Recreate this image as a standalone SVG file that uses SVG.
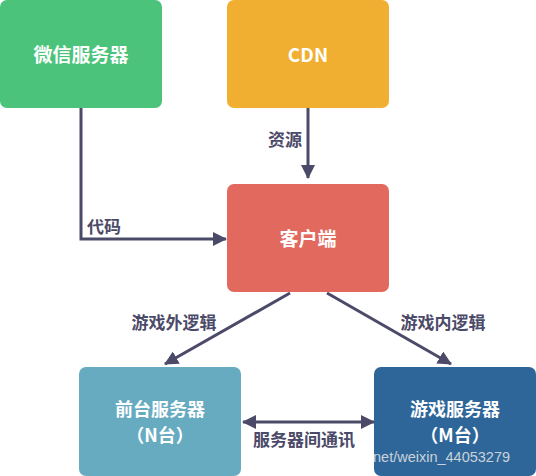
<svg xmlns="http://www.w3.org/2000/svg" width="536" height="476" viewBox="0 0 536 476">
<defs>
<marker id="ah" viewBox="0 0 14 14" refX="13" refY="7" markerWidth="14" markerHeight="14" markerUnits="userSpaceOnUse" orient="auto-start-reverse">
<path d="M0,0 L14,7 L0,14 z" fill="#4b4a68"/>
</marker>
<style>
.node text{font-family:"Noto Sans CJK SC","Noto Sans",sans-serif;font-weight:bold;font-size:19px;fill:#ffffff;text-anchor:middle}
.node text.two{font-size:18px}
.lbl{font-family:"Noto Sans CJK SC","Noto Sans",sans-serif;font-weight:bold;font-size:17px;fill:#4b4a68;text-anchor:middle}
.edge{stroke:#4b4a68;stroke-width:3;fill:none}
</style>
</defs>
<rect width="536" height="476" fill="#ffffff"/>
<g id="wechat" class="node"><rect x="0" y="0" width="162" height="108" rx="7" fill="#4bc37a"/><text x="81" y="62">微信服务器</text></g>
<g id="cdn" class="node"><rect x="227" y="0" width="162" height="108" rx="7" fill="#f0af30"/><text x="308" y="62">CDN</text></g>
<g id="client" class="node"><rect x="227" y="184" width="162" height="108" rx="7" fill="#e2695e"/><text x="308" y="246">客户端</text></g>
<g id="front" class="node"><rect x="79" y="367" width="162" height="109" rx="7" fill="#67abc1"/><text class="two" x="160" y="416">前台服务器</text><text class="two" x="160" y="442">（N台）</text></g>
<g id="game" class="node"><rect x="374" y="367" width="162" height="109" rx="7" fill="#2e6699"/><text class="two" x="455" y="416">游戏服务器</text><text class="two" x="455" y="442">（M台）</text></g>
<g id="edges">
<path class="edge" d="M81,108 V239 H226" marker-end="url(#ah)"/>
<path class="edge" d="M308,108 V178" marker-end="url(#ah)"/>
<path class="edge" d="M290,293 L165,364" marker-end="url(#ah)"/>
<path class="edge" d="M327,293 L451,364" marker-end="url(#ah)"/>
<path class="edge" d="M243,422 H374" marker-start="url(#ah)" marker-end="url(#ah)"/>
<text class="lbl" x="104" y="233">代码</text>
<text class="lbl" x="285" y="146">资源</text>
<text class="lbl" x="174" y="329">游戏外逻辑</text>
<text class="lbl" x="443" y="329">游戏内逻辑</text>
<text class="lbl" x="304" y="446">服务器间通讯</text>
</g>
<text x="373" y="462" font-family="Liberation Sans, Arial, sans-serif" font-size="14.5" fill="#e6e6e6" fill-opacity="0.85">net/weixin_44053279</text>
</svg>
